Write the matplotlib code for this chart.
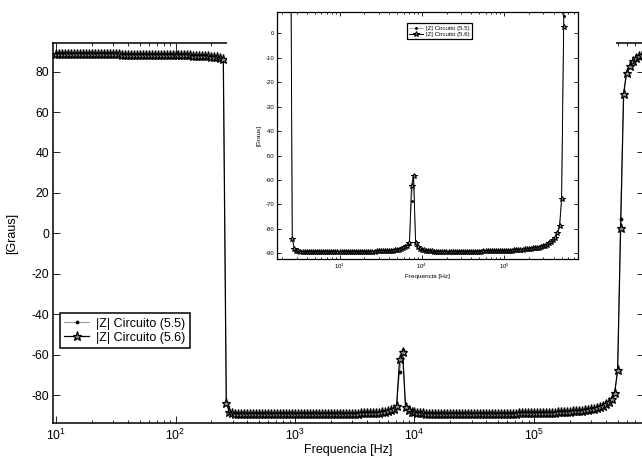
import numpy as np
import matplotlib
matplotlib.use("Agg")
import matplotlib.pyplot as plt
from matplotlib.patches import Rectangle
from matplotlib.ticker import LogLocator, NullFormatter, FixedLocator

plt.rcParams.update({
    "font.family": ["Liberation Sans", "DejaVu Sans"],
    "mathtext.fontset": "custom",
    "mathtext.rm": "Liberation Sans",
    "mathtext.it": "Liberation Sans:italic",
    "mathtext.bf": "Liberation Sans:bold",
    "axes.unicode_minus": False,
})

# AC sweep: 40 points per decade starting at 10 Hz
sweep_start_hz = 10.0
points_per_decade = 40

# Phase of |Z| for circuit (5.6), degrees, one value per sweep point
phase_56 = [
    88.7, 88.7, 88.7, 88.6, 88.6, 88.6, 88.6, 88.6, 88.6, 88.6,
    88.6, 88.6, 88.5, 88.5, 88.5, 88.5, 88.5, 88.5, 88.5, 88.5,
    88.5, 88.5, 88.4, 88.4, 88.4, 88.4, 88.4, 88.4, 88.4, 88.4,
    88.4, 88.3, 88.3, 88.3, 88.3, 88.3, 88.3, 88.2, 88.2, 88.2,
    88.2, 88.1, 88.1, 88.1, 88.0, 88.0, 87.9, 87.9, 87.8, 87.7,
    87.6, 87.5, 87.4, 87.2, 87.0, 86.7, 86.3, -84.0, -88.2, -88.9,
    -89.2, -89.4, -89.5, -89.5, -89.6, -89.6, -89.6, -89.6, -89.6, -89.6,
    -89.6, -89.6, -89.6, -89.6, -89.6, -89.6, -89.6, -89.6, -89.6, -89.6,
    -89.6, -89.6, -89.6, -89.6, -89.6, -89.6, -89.5, -89.5, -89.5, -89.5,
    -89.5, -89.5, -89.5, -89.4, -89.4, -89.4, -89.3, -89.3, -89.2, -89.2,
    -89.2, -89.2, -89.1, -89.1, -89.0, -89.0, -88.9, -88.8, -88.7, -88.5,
    -88.3, -88.0, -87.5, -86.8, -85.6, -62.3, -58.5, -85.8, -87.5, -88.2,
    -88.6, -88.8, -89.0, -89.1, -89.2, -89.2, -89.3, -89.3, -89.3, -89.3,
    -89.3, -89.3, -89.3, -89.3, -89.3, -89.3, -89.3, -89.3, -89.3, -89.3,
    -89.3, -89.3, -89.3, -89.3, -89.3, -89.3, -89.3, -89.3, -89.3, -89.3,
    -89.2, -89.2, -89.2, -89.2, -89.2, -89.1, -89.1, -89.1, -89.1, -89.1,
    -89.1, -89.0, -89.0, -88.9, -88.9, -88.8, -88.8, -88.7, -88.6, -88.5,
    -88.4, -88.3, -88.2, -88.1, -88.0, -87.9, -87.8, -87.6, -87.4, -87.1,
    -86.8, -86.4, -85.9, -85.3, -84.6, -83.6, -81.8, -78.9, -67.8, 2.5,
    69.0, 79.5, 83.0, 85.2, 86.6, 87.5, 88.0, 88.4,
]

# Circuit (5.5) follows (5.6) except at these sweep points
phase_55_changes = {115: -68.5, 116: -57.8, 189: 7.0}

series_labels = ["|Z| Circuito (5.5)", "|Z| Circuito (5.6)"]
main_yticks = [-80, -60, -40, -20, 0, 20, 40, 60, 80]
inset_yticks = [0, -10, -20, -30, -40, -50, -60, -70, -80, -90]
x_label = "Frequencia [Hz]"
y_label = "[Graus]"

freq_hz = sweep_start_hz * 10.0 ** (np.arange(len(phase_56)) / points_per_decade)
phase_55 = list(phase_56)
for idx, val in phase_55_changes.items():
    phase_55[idx] = val

W, H = 642, 457
fig = plt.figure(figsize=(W / 100, H / 100), dpi=100)


def fig_rect(x0, y0, x1, y1):
    """Pixel box (top-left origin) -> figure fraction [l, b, w, h]."""
    return [x0 / W, 1 - y1 / H, (x1 - x0) / W, (y1 - y0) / H]


def draw_series(ax, ms_dot, ms_star, lw, mew):
    ax.plot(freq_hz, phase_55, color="0.45", lw=lw * 0.6, marker=".",
            ms=ms_dot, mfc="k", mec="k", label=series_labels[0])
    ax.plot(freq_hz, phase_56, color="k", lw=lw, marker="*",
            ms=ms_star, mfc="0.55", mec="k", mew=mew, label=series_labels[1])


def style_log_axes(ax, major_len, minor_len, lw):
    ax.set_xscale("log")
    ax.xaxis.set_major_locator(LogLocator(base=10, numticks=20))
    ax.xaxis.set_minor_locator(LogLocator(base=10, subs=np.arange(2, 10), numticks=20))
    ax.xaxis.set_minor_formatter(NullFormatter())
    ax.tick_params(which="both", direction="in", top=True, right=True, width=0.6)
    ax.tick_params(which="major", length=major_len)
    ax.tick_params(which="minor", length=minor_len)
    for s in ax.spines.values():
        s.set_linewidth(lw)


def boxed_legend(ax, anchor, fontsize, handlelength, frame_lw):
    leg = ax.legend(loc="upper left", bbox_to_anchor=anchor,
                    bbox_transform=fig.transFigure, fontsize=fontsize,
                    frameon=True, fancybox=False, framealpha=1, edgecolor="k",
                    borderpad=0.35, labelspacing=0.15,
                    handlelength=handlelength, handletextpad=0.55,
                    borderaxespad=0)
    leg.get_frame().set_linewidth(frame_lw)
    return leg


# Main axes
ax = fig.add_axes(fig_rect(53.3, 43.3, 644, 423.3))
draw_series(ax, ms_dot=3.5, ms_star=6.5, lw=0.9, mew=0.9)
style_log_axes(ax, 5, 2.5, 1.1)
ax.set_xlim(9.49, 8.33e5)
ax.set_ylim(-94, 94)
ax.yaxis.set_major_locator(FixedLocator(main_yticks))
ax.tick_params(labelsize=8.8, pad=3)
ax.set_xlabel(x_label, fontsize=9, labelpad=1)
ax.set_ylabel(y_label, fontsize=9)
ax.yaxis.set_label_coords((18 - 53.3) / (644 - 53.3), 0.5)
boxed_legend(ax, (60 / W, 1 - 313.3 / H), 9, 2.0, 1.1)

# White backing behind the inset
backing = Rectangle((227 / W, 1 - 290 / H), (616 - 227) / W, 290 / H,
                    transform=fig.transFigure, facecolor="white",
                    edgecolor="none", zorder=1.5)
fig.add_artist(backing)

# Inset axes
axi = fig.add_axes(fig_rect(277.3, 12.3, 578.3, 259))
axi.set_zorder(2)
draw_series(axi, ms_dot=2.2, ms_star=4.2, lw=0.7, mew=0.7)
style_log_axes(axi, 3, 1.5, 0.9)
axi.set_xlim(175, 8.0e5)
axi.set_ylim(-92.3, 8.6)
axi.yaxis.set_major_locator(FixedLocator(inset_yticks))
axi.tick_params(labelsize=4.3, pad=2)
axi.set_xlabel(x_label, fontsize=4.6, labelpad=2)
axi.set_ylabel(y_label, fontsize=4.6, labelpad=3)
boxed_legend(axi, (407.3 / W, 1 - 23.3 / H), 4.4, 2.2, 0.9)

fig.savefig("out.png", dpi=100)
